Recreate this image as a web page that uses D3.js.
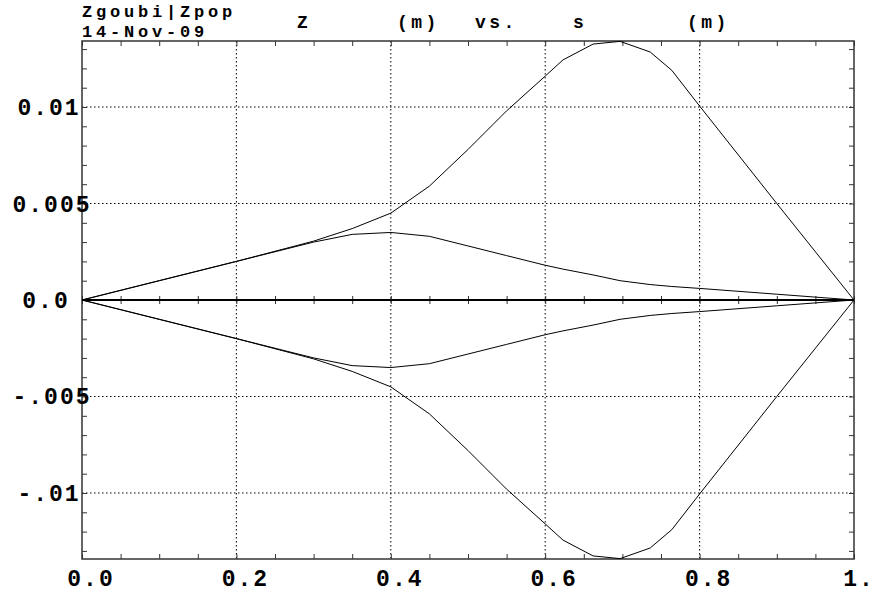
<!DOCTYPE html>
<html>
<head>
<meta charset="utf-8">
<script src="https://cdn.jsdelivr.net/npm/d3@7"></script>
<style>
  body { margin: 0; background: #fff; }
  svg { display: block; }
  text { font-family: "Liberation Mono", "Courier New", monospace; font-weight: bold; fill: #000; }
</style>
</head>
<body>
<svg id="chart" width="875" height="592"></svg>
<script>
// ---- data ----
const sValues = [0, 0.1, 0.2, 0.3, 0.35, 0.4, 0.45, 0.5, 0.55, 0.6, 0.623, 0.662, 0.697, 0.736, 0.764, 0.8, 0.9, 1.0];
const zUpperOuter = [0, 0.001, 0.002, 0.00305, 0.0037, 0.0045, 0.0059, 0.0078, 0.0098, 0.0116, 0.01244, 0.01326, 0.0134, 0.01285, 0.0119, 0.01005, 0.005, 0];
const zUpperInner = [0, 0.001, 0.002, 0.003, 0.0034, 0.0035, 0.0033, 0.0028, 0.0023, 0.0018, 0.0016, 0.0013, 0.0010, 0.0008, 0.0007, 0.0006, 0.0003, 0];
const zLowerOuter = [0, -0.001, -0.002, -0.00305, -0.0037, -0.0045, -0.0059, -0.0078, -0.0098, -0.0116, -0.01244, -0.01326, -0.0134, -0.01285, -0.0119, -0.01005, -0.005, 0];
const zLowerInner = [0, -0.001, -0.002, -0.003, -0.0034, -0.0035, -0.0033, -0.0028, -0.0023, -0.0018, -0.0016, -0.0013, -0.0010, -0.0008, -0.0007, -0.0006, -0.0003, 0];
const sReference = [0, 1];
const zReference = [0, 0];

const xMajorTicks = [0, 0.2, 0.4, 0.6, 0.8, 1.0];
const xTickLabels = ["0.0", "0.2", "0.4", "0.6", "0.8", "1."];
const yMajorTicks = [0.01, 0.005, 0, -0.005, -0.01];
const yTickLabels = ["0.01", "0.005", "0.0", "-.005", "-.01"];
const xMinorStep = 0.05;
const yMinorStep = 0.001;
const xDomain = [0, 1];
const yDomain = [-0.01342, 0.01342];

const headerLines = ["Zgoubi|Zpop", "14-Nov-09"];
const titleWords = ["Z", "(m)", "vs.", "s", "(m)"];

// ---- layout ----
const svg = d3.select("#chart");
const L = 82, R = 854, T = 41, B = 559;
const x = d3.scaleLinear().domain(xDomain).range([L, R]);
const y = d3.scaleLinear().domain(yDomain).range([B, T]);

// grid (dotted) at major ticks
const g = svg.append("g");
g.selectAll(".vgrid").data(xMajorTicks.filter(v => v > 0 && v < 1)).enter()
  .append("line")
  .attr("x1", d => x(d)).attr("x2", d => x(d)).attr("y1", T).attr("y2", B)
  .attr("stroke", "#000").attr("stroke-width", 1).attr("stroke-dasharray", "1.5,2.5");
g.selectAll(".hgrid").data(yMajorTicks.filter(v => v !== 0)).enter()
  .append("line")
  .attr("x1", L).attr("x2", R).attr("y1", d => y(d)).attr("y2", d => y(d))
  .attr("stroke", "#000").attr("stroke-width", 1).attr("stroke-dasharray", "1.5,2.5");

// minor tick values
const xMinor = d3.range(0, 1 + 1e-9, xMinorStep).map(v => +v.toFixed(4));
const yMinor = d3.range(-13, 14).map(i => +(i * yMinorStep).toFixed(4)).filter(v => y(v) >= T && y(v) <= B);

// axes via d3 axis generators (inward ticks, no labels)
const tickLen = 5;
const axBottom = d3.axisTop(x).tickValues(xMinor).tickSize(tickLen).tickFormat("");
const axTop = d3.axisBottom(x).tickValues(xMinor).tickSize(tickLen).tickFormat("");
const axLeft = d3.axisRight(y).tickValues(yMinor).tickSize(tickLen).tickFormat("");
const axRight = d3.axisLeft(y).tickValues(yMinor).tickSize(tickLen).tickFormat("");
const axZeroUp = d3.axisTop(x).tickValues(xMinor).tickSize(4).tickFormat("");
const axZeroDown = d3.axisBottom(x).tickValues(xMinor).tickSize(4).tickFormat("");

function styleAxis(sel) {
  sel.select(".domain").remove();
  sel.selectAll("line").attr("stroke", "#333").attr("stroke-width", 1);
}
svg.append("g").attr("transform", `translate(0,${B})`).call(axBottom).call(styleAxis);
svg.append("g").attr("transform", `translate(0,${T})`).call(axTop).call(styleAxis);
svg.append("g").attr("transform", `translate(${L},0)`).call(axLeft).call(styleAxis);
svg.append("g").attr("transform", `translate(${R},0)`).call(axRight).call(styleAxis);
svg.append("g").attr("transform", `translate(0,${y(0)})`).call(axZeroUp).call(styleAxis);
svg.append("g").attr("transform", `translate(0,${y(0)})`).call(axZeroDown).call(styleAxis);

// frame
svg.append("rect").attr("x", L).attr("y", T).attr("width", R - L).attr("height", B - T)
  .attr("fill", "none").attr("stroke", "#333").attr("stroke-width", 1.5);

// curves
const line = d3.line().x(d => x(d[0])).y(d => y(d[1]));
const series = [zUpperOuter, zUpperInner, zLowerOuter, zLowerInner];
series.forEach(zs => {
  svg.append("path").datum(sValues.map((s, i) => [s, zs[i]]))
    .attr("d", line).attr("fill", "none").attr("stroke", "#000").attr("stroke-width", 1);
});
svg.append("path").datum(sReference.map((s, i) => [s, zReference[i]]))
  .attr("d", line).attr("fill", "none").attr("stroke", "#000").attr("stroke-width", 2.2);

// tick labels
svg.selectAll(".xl").data(xMajorTicks).enter().append("text")
  .attr("x", (d, i) => x(d) + (xTickLabels[i].length >= 3 ? 9 : 5))
  .attr("y", 586)
  .attr("text-anchor", "middle")
  .style("font-size", "23px").style("letter-spacing", "2px")
  .text((d, i) => xTickLabels[i]);

svg.selectAll(".yl").data(yMajorTicks).enter().append("text")
  .attr("x", (d, i) => 46 + (yTickLabels[i].length - 3) * 3)
  .attr("y", d => y(d) + 8)
  .attr("text-anchor", "middle")
  .style("font-size", "23px").style("letter-spacing", "2px")
  .text((d, i) => yTickLabels[i]);

// header
svg.selectAll(".hdr").data(headerLines).enter().append("text")
  .attr("x", L).attr("y", (d, i) => 17 + i * 20)
  .style("font-size", "17px").style("letter-spacing", "3.8px")
  .text(d => d);

// title
const titleX = [297, 397, 475, 573, 687];
svg.selectAll(".ttl").data(titleWords).enter().append("text")
  .attr("x", (d, i) => titleX[i]).attr("y", 28)
  .style("font-size", "18px").style("letter-spacing", "3.5px")
  .text(d => d);
</script>
</body>
</html>
